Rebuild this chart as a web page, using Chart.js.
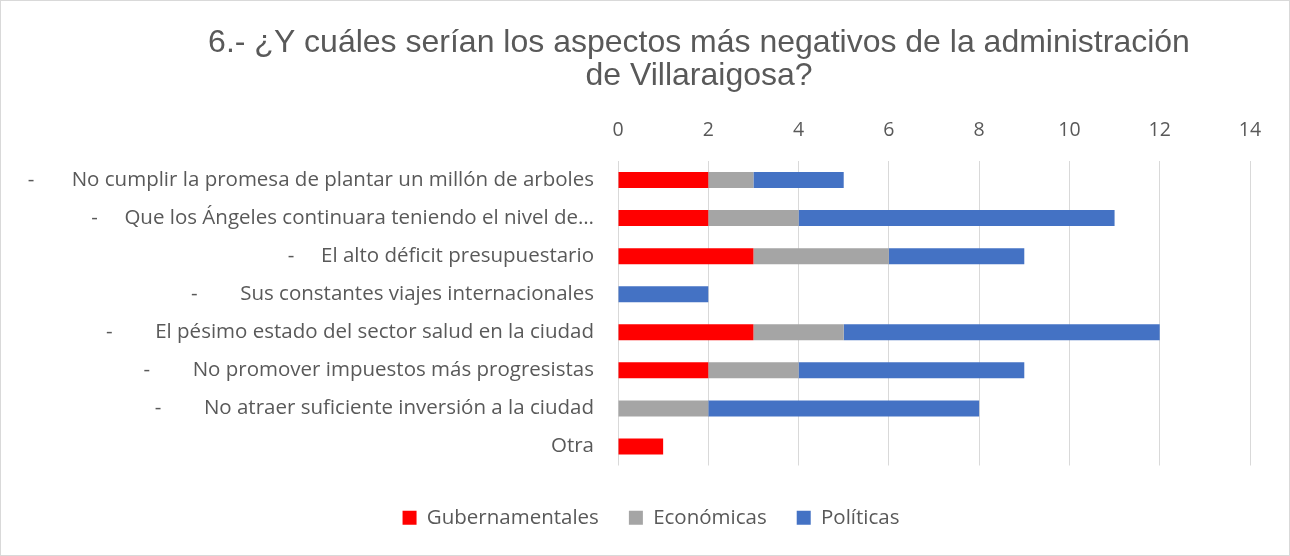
<!DOCTYPE html>
<html>
<head>
<meta charset="utf-8">
<script src="https://cdn.jsdelivr.net/npm/chart.js@4"></script>
<style>
    html, body { margin: 0; padding: 0; background: #fff; }
    #wrap { position: relative; width: 1290px; height: 556px; box-sizing: border-box; border: 1px solid #d9d9d9; }
</style>
</head>
<body>
<div id="wrap"><canvas id="chart"></canvas></div>
<script>
// --- data ---
const titleLines = [
    '6.- ¿Y cuáles serían los aspectos más negativos de la administración',
    'de Villaraigosa?'
];
const categories = [
    '-       No cumplir la promesa de plantar un millón de arboles',
    '-     Que los Ángeles continuara teniendo el nivel de…',
    '-     El alto déficit presupuestario',
    '-        Sus constantes viajes internacionales',
    '-        El pésimo estado del sector salud en la ciudad',
    '-        No promover impuestos más progresistas',
    '-        No atraer suficiente inversión a la ciudad',
    'Otra'
];
const gubernamentales = [2, 2, 3, 0, 3, 2, 0, 1];
const economicas      = [1, 2, 3, 0, 2, 2, 2, 0];
const politicas       = [2, 7, 3, 2, 7, 5, 6, 0];
const seriesNames = ['Gubernamentales', 'Económicas', 'Políticas'];
const xTicks = [0, 2, 4, 6, 8, 10, 12, 14];

const textColor = '#595959';
const labelFont = '"Open Sans"';
const labelSize = 20.5;

// title drawn centred over the plot side, like the original
const titlePlugin = {
    id: 'sideTitle',
    afterDraw(chart) {
        const ctx = chart.ctx;
        ctx.save();
        ctx.font = '32px "Liberation Sans", Arial, sans-serif';
        ctx.fillStyle = textColor;
        ctx.textAlign = 'center';
        ctx.textBaseline = 'middle';
        titleLines.forEach((line, i) => ctx.fillText(line, 698, 42 + i * 33));
        ctx.restore();
    }
};

new Chart(document.getElementById('chart'), {
    type: 'bar',
    data: {
        labels: categories,
        datasets: [
            { label: seriesNames[0], data: gubernamentales, backgroundColor: '#FF0000' },
            { label: seriesNames[1], data: economicas, backgroundColor: '#A5A5A5' },
            { label: seriesNames[2], data: politicas, backgroundColor: '#4472C4' }
        ]
    },
    options: {
        indexAxis: 'y',
        responsive: true,
        maintainAspectRatio: false,
        animation: false,
        layout: { padding: { top: 0, right: 0, bottom: 17, left: 12 } },
        datasets: { bar: { categoryPercentage: 1, barPercentage: 0.42, borderWidth: 0 } },
        scales: {
            x: {
                position: 'top',
                stacked: true,
                min: 0,
                max: 14,
                afterBuildTicks: (scale) => { scale.ticks = xTicks.map(v => ({ value: v })); },
                afterFit: (scale) => { scale.height = 160; },
                grid: { color: '#D9D9D9', lineWidth: 1, drawTicks: false },
                border: { display: false },
                ticks: { color: textColor, padding: 19, font: { family: labelFont, size: 19.5 } }
            },
            y: {
                stacked: true,
                afterFit: (scale) => { scale.width = 605; },
                grid: { display: false, drawTicks: false },
                border: { display: false },
                ticks: { color: textColor, padding: 24, autoSkip: false, font: { family: labelFont, size: labelSize } }
            },
            // empty strip on the right so the legend centres like the original
            yRight: {
                position: 'right',
                afterFit: (scale) => { scale.width = 39; },
                grid: { display: false, drawTicks: false },
                border: { display: false },
                ticks: { display: false }
            }
        },
        plugins: {
            legend: {
                position: 'bottom',
                title: { display: true, text: '', padding: 0, font: { size: 12, lineHeight: 1 } },
                labels: {
                    color: textColor,
                    boxWidth: 14,
                    boxHeight: 14,
                    padding: 30,
                    font: { family: labelFont, size: labelSize }
                }
            },
            tooltip: { enabled: false }
        }
    },
    plugins: [titlePlugin]
});
</script>
</body>
</html>
